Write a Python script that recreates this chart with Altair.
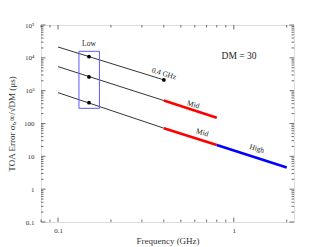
import altair as alt
import pandas as pd

# ---- data ----
seg_id = ["a", "a", "b", "b", "c", "c", "d", "d", "e", "e", "f", "f"]
seg_freq = [0.1, 0.4, 0.1, 0.4, 0.4, 0.8, 0.1, 0.4, 0.4, 0.8, 0.8, 2.0]
seg_val = [21400, 2130, 5400, 500, 500, 150, 870, 72, 72, 22, 22, 4.6]
seg_color = ["black"] * 4 + ["red"] * 2 + ["black"] * 2 + ["red", "red", "blue", "blue"]
seg_width = [0.8] * 4 + [2.6] * 2 + [0.8] * 2 + [2.6] * 4

dot_freq = [0.15, 0.15, 0.15, 0.4]
dot_val = [10870, 2617, 431, 2130]

box_f1, box_f2, box_v1, box_v2 = [0.1315], [0.172], [290], [15800]

lab_text = ["0.4 GHz", "Mid", "Mid", "High"]
lab_freq = [0.40, 0.587, 0.66, 1.35]
lab_val = [3230, 367, 51.5, 16.8]

low_text, low_freq, low_val = ["Low"], [0.15], [26500]
dm_text, dm_freq, dm_val = ["DM = 30"], [1.07], [11400]

x_major = [0.1, 1]
x_minor = [0.08, 0.09] + [m / 10 for m in range(2, 10)] + [2.0]
y_major = [0.1, 1, 10, 100, 1000, 10000, 100000]
y_minor = [m * 10.0 ** e for e in range(-1, 5) for m in range(2, 10)]

W, H = 253, 197
FONT = "Liberation Serif"

xs = alt.Scale(type="log", domain=[0.08, 2.2], nice=False)
ys = alt.Scale(type="log", domain=[0.1, 100000], nice=False)

x_axis = alt.Axis(values=x_major, ticks=False, domain=False, grid=False,
                  labelFontSize=7, labelPadding=4, titleFontSize=9,
                  titlePadding=3, titleFontWeight="normal",
                  labelFont=FONT, titleFont=FONT, format="~g",
                  labelColor="#333", titleColor="#333")
y_axis = alt.Axis(values=y_major, ticks=False, domain=False, grid=False,
                  labelFontSize=7, labelPadding=7, titleFontSize=9,
                  titlePadding=7, titleFontWeight="normal",
                  labelFont=FONT, titleFont=FONT, format="~g",
                  labelExpr="datum.value >= 99999 ? '10⁵' : datum.value >= 9999 ? '10⁴' : datum.value >= 999 ? '10³' : datum.label",
                  labelColor="#333", titleColor="#333")
XT = "Frequency (GHz)"
YT = "TOA Error  σₜ,∞/√DM (μs)"


def X(field):
    return alt.X(field, scale=xs, axis=x_axis, title=XT)


def Y(field):
    return alt.Y(field, scale=ys, axis=y_axis, title=YT)


seg_df = pd.DataFrame({"seg": seg_id, "f": seg_freq, "v": seg_val,
                       "c": seg_color, "w": seg_width})

lines = alt.Chart(seg_df).mark_line(clip=True).encode(
    x=X("f:Q"), y=Y("v:Q"),
    detail="seg:N",
    color=alt.Color("c:N", scale=None),
    strokeWidth=alt.StrokeWidth("w:Q", scale=None),
    order="f:Q",
)

dots = alt.Chart(pd.DataFrame({"f": dot_freq, "v": dot_val})).mark_point(
    filled=True, color="black", size=14, opacity=1).encode(x=X("f:Q"), y=Y("v:Q"))

box = alt.Chart(pd.DataFrame({"f1": box_f1, "f2": box_f2, "v1": box_v1, "v2": box_v2})).mark_rect(
    fill=None, filled=False, stroke="#5a5aff", strokeWidth=1).encode(
    x=X("f1:Q"), x2="f2:Q", y=Y("v1:Q"), y2="v2:Q")

labels = alt.Chart(pd.DataFrame({"t": lab_text, "f": lab_freq, "v": lab_val})).mark_text(
    angle=17, font=FONT, fontSize=7.5, color="#222", baseline="middle", align="center").encode(
    x=X("f:Q"), y=Y("v:Q"), text="t:N")

low = alt.Chart(pd.DataFrame({"t": low_text, "f": low_freq, "v": low_val})).mark_text(
    font=FONT, fontSize=7.5, color="#222", baseline="middle", align="center").encode(
    x=X("f:Q"), y=Y("v:Q"), text="t:N")

dm = alt.Chart(pd.DataFrame({"t": dm_text, "f": dm_freq, "v": dm_val})).mark_text(
    font=FONT, fontSize=9.5, color="#222", baseline="middle", align="center").encode(
    x=X("f:Q"), y=Y("v:Q"), text="t:N")


def yticks(vals, length):
    d = pd.DataFrame({"v": vals})
    left = alt.Chart(d).mark_rule(color="#333", strokeWidth=0.7).encode(
        y=Y("v:Q"), x=alt.value(0), x2=alt.value(length))
    right = alt.Chart(d).mark_rule(color="#333", strokeWidth=0.7).encode(
        y=Y("v:Q"), x=alt.value(W), x2=alt.value(W - length))
    return [left, right]


def xticks(vals, length):
    d = pd.DataFrame({"f": [v for v in vals if 0.08 <= v <= 2.2]})
    bottom = alt.Chart(d).mark_rule(color="#333", strokeWidth=0.7).encode(
        x=X("f:Q"), y=alt.value(H), y2=alt.value(H - length))
    top = alt.Chart(d).mark_rule(color="#333", strokeWidth=0.7).encode(
        x=X("f:Q"), y=alt.value(0), y2=alt.value(length))
    return [bottom, top]


tick_layers = yticks(y_major, 4.5) + yticks(y_minor, 2.5) + xticks(x_major, 4.5) + xticks(x_minor, 2.5)

chart = alt.layer(lines, box, dots, labels, low, dm, *tick_layers).properties(
    width=W, height=H,
    autosize=alt.AutoSizeParams(type="none"),
    padding={"left": 33, "top": 17, "right": 25, "bottom": 24},
).configure_view(stroke="#111", strokeWidth=1.6).configure(background="white")

chart.save("out.html", embed_options={"renderer": "svg", "actions": False})
